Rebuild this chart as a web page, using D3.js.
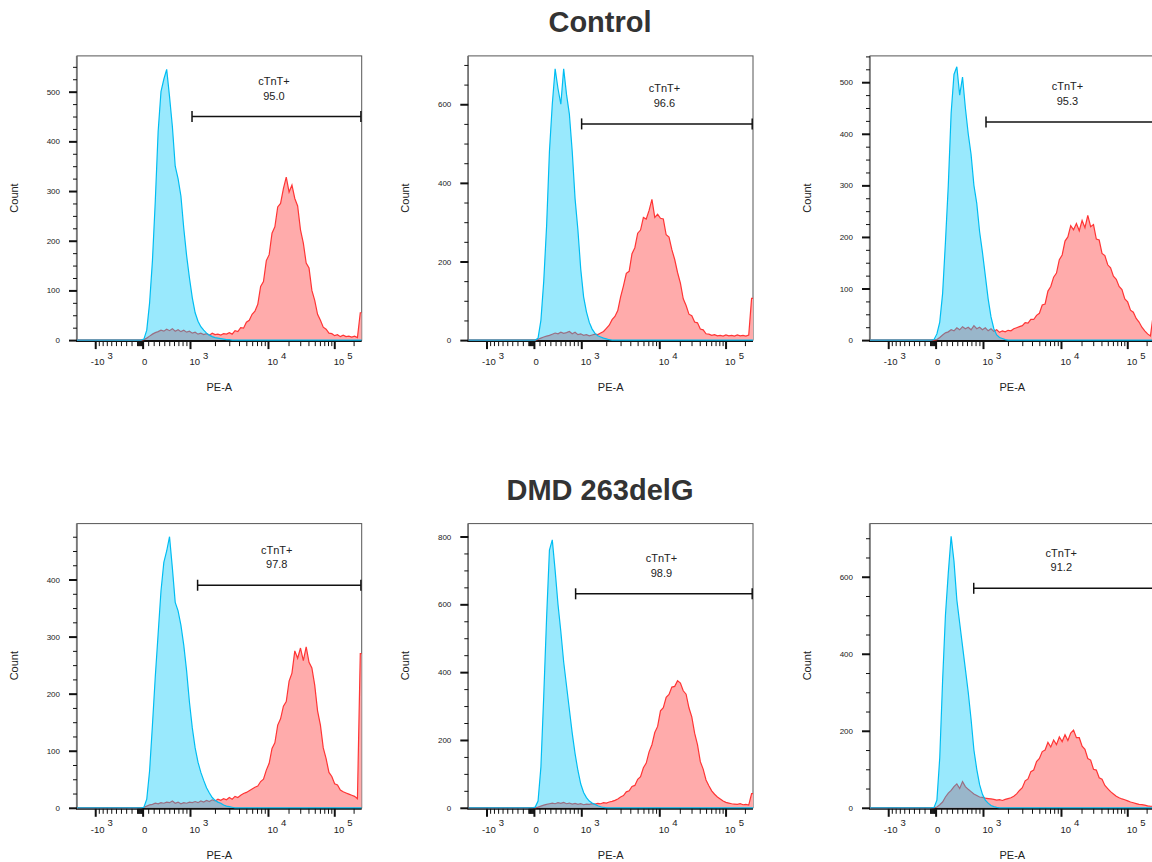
<!DOCTYPE html>
<html><head><meta charset="utf-8">
<script src="https://cdn.jsdelivr.net/npm/d3@7"></script>
<style>
body{margin:0;background:#fff}
svg{display:block}
text{font-family:"Liberation Sans",Arial,Helvetica,sans-serif;fill:#222}
</style>
</head><body>
<svg id="c" width="1152" height="862"></svg>
<script>
// ---------------- DATA ----------------
const nCh = 100; // display channels across the PE-A axis
const titles = ["Control", "DMD 263delG"];
const gateName = "cTnT+";
const gatePercent = ["95.0", "96.6", "95.3", "97.8", "98.9", "91.2"];
const gateStartPE = [1060, 1010, 1090, 1240, 845, 755];
const gateLevel = [450, 550, 423, 390, 631, 570];
const yMax = [572, 723, 551, 498, 838, 738];
const yMajorStep = [100, 200, 100, 100, 200, 200];
const yMinorStep = [25, 50, 25, 25, 50, 50];
const xMajorTicks = [-1000, 0, 1000, 10000, 100000];
const xTickLabels = [["-10", "3"], ["0", ""], ["10", "3"], ["10", "4"], ["10", "5"]];
const xMinorTicks = [-900, -800, -700, -600, -500, -400, -300, -200, -100,
  -90, -80, -70, -60, -50, -40, -30, -20, -10,
  100, 200, 300, 400, 500, 600, 700, 800, 900,
  2000, 3000, 4000, 5000, 6000, 7000, 8000, 9000,
  20000, 30000, 40000, 50000, 60000, 70000, 80000, 90000, 200000];

// histogram counts per channel, starting at the given channel
const blueStart = [23, 24, 22, 23, 23, 22];
const redStart = [23, 24, 23, 23, 24, 23];

const blue1 = [2,20,75,160,280,420,500,525,545,490, 430,350,325,290,225,170,125,85,55,38, 27,20,14,10,7,5,4,3,2,1, 1];
const red1 = [1,4,8,12,15,17,20,18,22,19, 23,18,21,17,20,16,18,14,16,12, 14,11,13,10,14,11,12,10,13,12,
  15,12,19,17,25,24,36,40,52,58, 72,108,118,160,172,215,228,268,275,305, 328,298,312,285,270,222,195,155,145,100,
  80,52,40,26,22,14,13,9,11,7, 10,7,8,6,8,5,55];

const blue2 = [5,50,150,290,480,600,690,640,600,690, 625,575,480,360,280,180,110,72,45,28, 17,11,8,5,3,1];
const red2 = [2,5,8,10,12,15,18,16,20,17, 19,22,16,20,14,16,12,14,11,13, 15,14,18,22,30,38,52,60,75,110,
  138,170,175,220,235,272,280,312,308,330, 358,312,320,310,308,268,262,230,205,172, 145,105,88,66,62,46,44,28,26,16,
  15,12,14,11,12,10,13,11,12,10, 13,11,12,10,13,106];

const blue3 = [1,12,35,90,190,300,440,515,530,475, 510,450,400,360,300,265,210,170,125,80, 45,22,10,5,3,1];
const red3 = [1,5,10,14,16,20,18,24,20,26, 22,25,20,28,22,25,20,24,18,22, 17,20,15,18,16,19,18,22,24,26,
  28,34,33,40,40,48,52,68,70,95, 104,122,130,156,165,192,200,222,214,226, 212,232,218,242,220,224,196,194,168,164,
  146,140,124,118,104,98,80,74,58,54, 42,35,25,18,12,8,50];

const blue4 = [1,15,65,145,230,305,380,430,450,475, 420,360,345,320,285,240,185,140,105,80, 62,48,35,26,18,13,10,8,5,3, 2,1];
const red4 = [1,3,5,6,8,7,9,8,10,9, 12,8,10,7,9,8,10,9,11,9, 12,10,13,11,14,12,15,13,16,14,
  18,15,20,18,22,25,27,30,33,36, 38,46,50,66,78,104,114,145,156,178, 186,222,236,275,262,280,258,282,255,245,
  215,170,145,105,86,62,55,42,40,31, 28,26,24,22,20,16,270];

const blue5 = [2,20,120,330,560,760,790,700,600,520, 430,360,290,220,160,110,70,45,30,20, 14,10,6,3,1];
const red5 = [2,5,8,10,12,14,12,15,13,16, 12,14,11,13,10,12,9,11,10,12, 11,13,12,15,14,17,19,22,26,32,
  36,47,50,63,66,84,92,118,132,165, 186,222,240,286,295,326,334,356,358,375, 368,345,335,295,268,220,186,136,114,82,
  65,50,40,32,26,20,16,14,12,11, 10,12,9,10,8,42];

const blue6 = [1,20,130,330,500,610,705,640,540,480, 420,360,300,230,150,100,60,35,20,12, 6,3,1];
const red6 = [2,8,15,28,38,45,55,62,50,68, 55,48,42,36,32,28,27,25,24,23, 22,20,21,19,22,24,26,30,36,45,
  52,70,75,94,98,120,128,146,150,170, 158,176,164,184,172,190,175,194,202,182, 182,160,152,128,124,100,98,78,74,58,
  50,42,36,30,26,23,21,18,15,13, 11,9,8,7,5,4,4];

const blues = [blue1, blue2, blue3, blue4, blue5, blue6];
const reds = [red1, red2, red3, red4, red5, red6];

// ---------------- LOGICLE (biexponential) TRANSFORM ----------------
function makeLogicle(T, W, M, A) {
  const w = W / (M + A), x2 = A / (M + A), x1 = x2 + w, x0 = x2 + 2 * w, b = (M + A) * Math.LN10;
  let lo = 1e-12, hi = b;
  const fn = d => 2 * Math.log(d) + w * d - 2 * Math.log(b) + w * b;
  for (let i = 0; i < 200; i++) { const m = (lo + hi) / 2; if (fn(m) > 0) hi = m; else lo = m; }
  const d = (lo + hi) / 2;
  const ca = Math.exp(x0 * (b + d));
  const mfa = Math.exp(b * x1) - ca / Math.exp(d * x1);
  const a = T / ((Math.exp(b) - mfa) - ca / Math.exp(d));
  const c = ca * a, f = -mfa * a;
  const inv = yv => {
    const neg = yv < x1; const s = neg ? 2 * x1 - yv : yv;
    const v = a * Math.exp(b * s) + f - c * Math.exp(-d * s);
    return neg ? -v : v;
  };
  const fwd = v => {
    let l = -1, h = 1.5;
    for (let i = 0; i < 90; i++) { const m = (l + h) / 2; if (inv(m) < v) l = m; else h = m; }
    return (l + h) / 2;
  };
  return { inv, fwd };
}
const logicle = makeLogicle(262144, 0.99, 4.42, 0);
const yLo = -0.009, yHi = 1.002;
const chOf = v => (logicle.fwd(v) - yLo) / (yHi - yLo) * nCh;

// ---------------- LAYOUT ----------------
const svg = d3.select("#c");
const colLeft = [77, 468.3, 870];
const rowTop = [55.9, 523.6];
const plotW = 284.7, plotH = 284.2;
const titleY = [32, 500];

titles.forEach((t, r) => {
  svg.append("text").attr("x", 600).attr("y", titleY[r]).attr("text-anchor", "middle")
    .attr("font-size", 29).attr("font-weight", "bold").style("fill", "#333").text(t);
});

function toPoints(start, counts) {
  const pts = [[0, 0]];
  let last = 0;
  for (let i = 0; i < nCh; i++) {
    const k = i - start;
    const v = (k >= 0 && k < counts.length) ? counts[k] : 0;
    pts.push([i + 0.5, v]);
    last = v;
  }
  pts.push([nCh, last]);
  return pts;
}

for (let p = 0; p < 6; p++) {
  const r = Math.floor(p / 3), c = p % 3;
  const left = colLeft[c], top = rowTop[r];
  const g = svg.append("g").attr("transform", `translate(${left},${top})`);
  const x = d3.scaleLinear().domain([0, nCh]).range([0, plotW]);
  const y = d3.scaleLinear().domain([0, yMax[p]]).range([plotH, 0]);
  const xPE = v => x(chOf(v));

  const cid = "clip" + p;
  g.append("clipPath").attr("id", cid).append("rect")
    .attr("x", 0).attr("y", 0).attr("width", plotW).attr("height", plotH + 1);

  // frame
  g.append("rect").attr("x", 0).attr("y", 0).attr("width", plotW).attr("height", plotH)
    .attr("fill", "none").attr("stroke", "#555").attr("stroke-width", 1);
  // bottom axis line
  g.append("line").attr("x1", -1).attr("x2", plotW).attr("y1", plotH + 1).attr("y2", plotH + 1)
    .attr("stroke", "#111").attr("stroke-width", 2);
  // left axis line
  g.append("line").attr("x1", -0.3).attr("x2", -0.3).attr("y1", 0).attr("y2", plotH + 1)
    .attr("stroke", "#777").attr("stroke-width", 1.6);

  // histograms
  const area = d3.area().x(d => x(d[0])).y0(y(0)).y1(d => y(d[1]));
  const line = d3.line().x(d => x(d[0])).y(d => y(d[1]));
  const hg = g.append("g").attr("clip-path", `url(#${cid})`);
  const rp = toPoints(redStart[p], reds[p]);
  const bp = toPoints(blueStart[p], blues[p]);
  hg.append("path").attr("d", area(rp)).attr("fill", "#ffabab");
  hg.append("path").attr("d", line(rp)).attr("fill", "none").attr("stroke", "#ff3535").attr("stroke-width", 1.2);
  hg.append("path").attr("d", area(bp)).attr("fill", "rgb(0,200,250)").attr("fill-opacity", 0.4);
  hg.append("path").attr("d", line(bp)).attr("fill", "none").attr("stroke", "#00bdf2").attr("stroke-width", 1.2);

  // y axis
  const yMajors = d3.range(0, yMax[p] + 1e-9, yMajorStep[p]);
  const yMinors = d3.range(0, yMax[p] + 1e-9, yMinorStep[p]).filter(v => v % yMajorStep[p] !== 0);
  const ya = g.append("g").call(d3.axisLeft(y).tickValues(yMinors).tickSize(4).tickFormat(() => ""));
  ya.select(".domain").remove();
  ya.selectAll(".tick line").attr("stroke", "#111").attr("stroke-width", 1);
  const yb = g.append("g").call(d3.axisLeft(y).tickValues(yMajors).tickSize(8).tickPadding(9).tickFormat(d3.format("d")));
  yb.select(".domain").remove();
  yb.selectAll(".tick line").attr("stroke", "#111").attr("stroke-width", 2);
  yb.selectAll(".tick text").attr("font-size", 8).style("font-family", '"Liberation Sans",Arial,sans-serif').style("fill", "#222");

  // x axis (logicle scale wrapped for d3.axis)
  const xs = v => xPE(v);
  xs.copy = () => xs; xs.range = () => [0, plotW]; xs.domain = () => [logicle.inv(yLo), logicle.inv(yHi)];
  const xa = g.append("g").attr("transform", `translate(0,${plotH + 1})`)
    .call(d3.axisBottom(xs).tickValues(xMinorTicks).tickSize(5).tickFormat(() => ""));
  xa.select(".domain").remove();
  xa.selectAll(".tick line").attr("stroke", "#111").attr("stroke-width", 1);
  const xb = g.append("g").attr("transform", `translate(0,${plotH + 1})`)
    .call(d3.axisBottom(xs).tickValues(xMajorTicks).tickSize(8).tickFormat(() => ""));
  xb.select(".domain").remove();
  xb.selectAll(".tick line").attr("stroke", "#111").attr("stroke-width", 2);

  xMajorTicks.forEach((v, i) => {
    const [base, ex] = xTickLabels[i];
    const t = g.append("text").attr("x", xPE(v) + (base.startsWith("-") ? -4.5 : -0.5))
      .attr("y", plotH + 25).attr("font-size", 9.5).text(base);
    if (ex) t.append("tspan").attr("dx", 3).attr("dy", -6.5).text(ex);
  });

  // axis titles
  g.append("text").attr("x", plotW / 2).attr("y", plotH + 51).attr("text-anchor", "middle")
    .attr("font-size", 11).text("PE-A");
  g.append("text").attr("transform", `translate(-59,${plotH / 2}) rotate(-90)`)
    .attr("text-anchor", "middle").attr("font-size", 11).text("Count");

  // gate
  const gy = y(gateLevel[p]), gx0 = xPE(gateStartPE[p]), gx1 = plotW - 0.8;
  const gg = g.append("g").attr("stroke", "#111").attr("stroke-width", 1.5);
  gg.append("line").attr("x1", gx0).attr("x2", gx1).attr("y1", gy).attr("y2", gy);
  gg.append("line").attr("x1", gx0).attr("x2", gx0).attr("y1", gy - 5.5).attr("y2", gy + 5.5);
  gg.append("line").attr("x1", gx1).attr("x2", gx1).attr("y1", gy - 5.5).attr("y2", gy + 5.5);
  const gcx = (gx0 + gx1) / 2 - 2.5;
  g.append("text").attr("x", gcx).attr("y", gy - 31.5).attr("text-anchor", "middle").attr("font-size", 11).text(gateName);
  g.append("text").attr("x", gcx).attr("y", gy - 17).attr("text-anchor", "middle").attr("font-size", 11).text(gatePercent[p]);
}
</script>
</body></html>
